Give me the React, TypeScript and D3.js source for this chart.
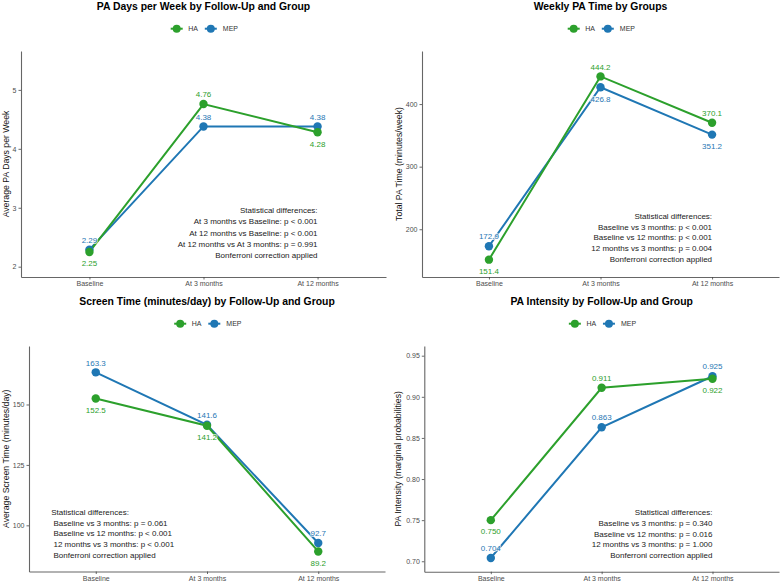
import React, { useEffect, useRef } from 'react';
import * as d3 from 'd3';

const FONT = '"Liberation Sans", Arial, Helvetica, sans-serif';

const followUps = ['Baseline', 'At 3 months', 'At 12 months'];
const groups = ['HA', 'MEP'];
const groupColors = ['#2ca02c', '#1f77b4'];

// PA days per week
const daysHA = [2.25, 4.76, 4.28];
const daysMEP = [2.29, 4.38, 4.38];
const daysHABelow = [true, false, true];
const daysMEPBelow = [false, false, false];
const daysDomain = [1.825, 5.66];
const daysTicks = [2, 3, 4, 5];
const daysStats = [
  'Statistical differences:',
  'At 3 months vs Baseline: p < 0.001',
  'At 12 months vs Baseline: p < 0.001',
  'At 12 months vs At 3 months: p = 0.991',
  'Bonferroni correction applied',
];

// weekly PA time
const timeHA = [151.4, 444.2, 370.1];
const timeMEP = [172.9, 426.8, 351.2];
const timeHABelow = [true, false, false];
const timeMEPBelow = [false, true, true];
const timeDomain = [123.7, 484.8];
const timeTicks = [200, 300, 400];
const timeStats = [
  'Statistical differences:',
  'Baseline vs 3 months: p < 0.001',
  'Baseline vs 12 months: p < 0.001',
  '12 months vs 3 months: p = 0.004',
  'Bonferroni correction applied',
];

// screen time
const screenHA = [152.5, 141.2, 89.2];
const screenMEP = [163.3, 141.6, 92.7];
const screenHABelow = [true, true, true];
const screenMEPBelow = [false, false, false];
const screenDomain = [80.9, 174.2];
const screenTicks = [100, 125, 150];
const screenStats = [
  'Statistical differences:',
  ' Baseline vs 3 months: p = 0.061',
  ' Baseline vs 12 months: p < 0.001',
  ' 12 months vs 3 months: p < 0.001',
  ' Bonferroni correction applied',
];

// PA intensity
const intensityHA = [0.75, 0.911, 0.922];
const intensityMEP = [0.704, 0.863, 0.925];
const intensityHABelow = [true, false, true];
const intensityMEPBelow = [false, false, false];
const intensityDomain = [0.6873, 0.9618];
const intensityTicks = [0.7, 0.75, 0.8, 0.85, 0.9, 0.95];
const intensityStats = [
  'Statistical differences:',
  'Baseline vs 3 months: p = 0.340',
  'Baseline vs 12 months: p = 0.016',
  '12 months vs 3 months: p = 1.000',
  'Bonferroni correction applied',
];

const panels = [
  {
    title: 'PA Days per Week by Follow-Up and Group',
    yTitle: 'Average PA Days per Week',
    ha: daysHA, mep: daysMEP, haBelow: daysHABelow, mepBelow: daysMEPBelow,
    yDomain: daysDomain, yTicks: daysTicks, tickFmt: 'd', labelFmt: '.2f',
    stats: daysStats, statsAnchor: 'end', statsAt: 2, statsY: 2.96, statsStep: 11.25,
    box: { left: 21, right: 386, top: 51, bottom: 277 }, yTitleX: 9,
  },
  {
    title: 'Weekly PA Time by Groups',
    yTitle: 'Total PA Time (minutes/week)',
    ha: timeHA, mep: timeMEP, haBelow: timeHABelow, mepBelow: timeMEPBelow,
    yDomain: timeDomain, yTicks: timeTicks, tickFmt: 'd', labelFmt: '.1f',
    stats: timeStats, statsAnchor: 'end', statsAt: 2, statsY: 220.8, statsStep: 10.65,
    box: { left: 422, right: 779, top: 51, bottom: 277 }, yTitleX: 402,
  },
  {
    title: 'Screen Time (minutes/day) by Follow-Up and Group',
    yTitle: 'Average Screen Time (minutes/day)',
    ha: screenHA, mep: screenMEP, haBelow: screenHABelow, mepBelow: screenMEPBelow,
    yDomain: screenDomain, yTicks: screenTicks, tickFmt: 'd', labelFmt: '.1f',
    stats: screenStats, statsAnchor: 'start', statsAt: -0.4, statsY: 105.4, statsStep: 10.6,
    box: { left: 29, right: 385, top: 346, bottom: 571.5 }, yTitleX: 9,
  },
  {
    title: 'PA Intensity by Follow-Up and Group',
    yTitle: 'PA Intensity (marginal probabilities)',
    ha: intensityHA, mep: intensityMEP, haBelow: intensityHABelow, mepBelow: intensityMEPBelow,
    yDomain: intensityDomain, yTicks: intensityTicks, tickFmt: '.2f', labelFmt: '.3f',
    stats: intensityStats, statsAnchor: 'end', statsAt: 2, statsY: 0.7592, statsStep: 10.65,
    box: { left: 424.3, right: 779, top: 346, bottom: 571.7 }, yTitleX: 401,
  },
];

function drawPanel(svg: any, p: any) {
  const { left, right, top, bottom } = p.box;
  const g = svg.append('g').attr('font-family', FONT);
  const cx = (left + right) / 2;

  const x = d3.scalePoint().domain(followUps).range([left, right]).padding(0.6);
  const y = d3.scaleLinear().domain(p.yDomain).range([bottom, top]);

  // title
  g.append('text')
    .attr('x', cx)
    .attr('y', top - 40.6)
    .attr('text-anchor', 'middle')
    .attr('font-size', 10.4)
    .attr('font-weight', 'bold')
    .attr('fill', '#000')
    .text(p.title);

  // legend
  const legend = g.append('g').attr('transform', `translate(${cx},${top - 22.3})`);
  const keyX = [-26.8, 7.3];
  const textX = [-15.2, 19.3];
  groups.forEach((name, i) => {
    legend.append('line')
      .attr('x1', keyX[i] - 6).attr('x2', keyX[i] + 6)
      .attr('y1', 0).attr('y2', 0)
      .attr('stroke', groupColors[i])
      .attr('stroke-width', 2);
    legend.append('circle')
      .attr('cx', keyX[i]).attr('cy', 0).attr('r', 4)
      .attr('fill', groupColors[i]);
    legend.append('text')
      .attr('x', textX[i]).attr('y', 2.5)
      .attr('font-size', 7)
      .attr('fill', '#333')
      .text(name);
  });

  // axes
  const xAxis = g.append('g')
    .attr('transform', `translate(0,${bottom})`)
    .call(d3.axisBottom(x).tickSize(2.5).tickSizeOuter(0).tickPadding(2));
  const yAxis = g.append('g')
    .attr('transform', `translate(${left},0)`)
    .call(
      d3.axisLeft(y)
        .tickValues(p.yTicks)
        .tickFormat(d3.format(p.tickFmt))
        .tickSize(2.5)
        .tickSizeOuter(0)
        .tickPadding(2)
    );
  [xAxis, yAxis].forEach((ax) => {
    ax.attr('font-family', FONT).attr('font-size', 7);
    ax.select('.domain').attr('stroke', '#666').attr('stroke-width', 1.1);
    ax.selectAll('.tick line').attr('stroke', '#444').attr('stroke-width', 0.8);
    ax.selectAll('.tick text').attr('fill', '#4d4d4d');
  });

  // y axis title
  g.append('text')
    .attr('transform', `translate(${p.yTitleX},${(top + bottom) / 2}) rotate(-90)`)
    .attr('text-anchor', 'middle')
    .attr('font-size', 8.7)
    .attr('fill', '#111')
    .text(p.yTitle);

  // statistics note
  const sx = (x(followUps[0]) as number) + p.statsAt * x.step();
  const sy = y(p.statsY) + 2.9;
  g.append('g')
    .selectAll('text')
    .data(p.stats)
    .enter()
    .append('text')
    .attr('x', sx)
    .attr('y', (d: string, i: number) => sy + i * p.statsStep)
    .attr('text-anchor', p.statsAnchor)
    .attr('font-size', 8)
    .attr('fill', '#1a1a1a')
    .style('white-space', 'pre')
    .text((d: string) => d);

  // MEP first so HA sits on top
  const series = [
    { values: p.mep, below: p.mepBelow, color: groupColors[1] },
    { values: p.ha, below: p.haBelow, color: groupColors[0] },
  ];
  const line = d3.line<number>()
    .x((d, i) => x(followUps[i]) as number)
    .y((d) => y(d));

  series.forEach((s) => {
    g.append('path')
      .attr('d', line(s.values))
      .attr('fill', 'none')
      .attr('stroke', s.color)
      .attr('stroke-width', 2);
  });

  series.forEach((s) => {
    g.append('g')
      .selectAll('circle')
      .data(s.values)
      .enter()
      .append('circle')
      .attr('cx', (d: number, i: number) => x(followUps[i]))
      .attr('cy', (d: number) => y(d))
      .attr('r', 4.2)
      .attr('fill', s.color);
  });

  const fmt = d3.format(p.labelFmt);
  series.forEach((s) => {
    g.append('g')
      .selectAll('text')
      .data(s.values)
      .enter()
      .append('text')
      .attr('x', (d: number, i: number) => x(followUps[i]))
      .attr('y', (d: number, i: number) => y(d) + (s.below[i] ? 14.2 : -6.8))
      .attr('text-anchor', 'middle')
      .attr('font-size', 8)
      .attr('fill', s.color)
      .attr('stroke', '#fff')
      .attr('stroke-width', 2)
      .attr('stroke-opacity', 0.7)
      .attr('paint-order', 'stroke')
      .text((d: number) => fmt(d));
  });
}

export default function App() {
  const svgRef = useRef<SVGSVGElement>(null);
  const width = 782;
  const height = 585;

  useEffect(() => {
    const svg = d3.select(svgRef.current);
    svg.selectAll('*').remove();
    svg.append('rect').attr('width', width).attr('height', height).attr('fill', '#fff');
    panels.forEach((p) => drawPanel(svg, p));
  }, []);

  return (
    <svg
      ref={svgRef}
      width={width}
      height={height}
      style={{ position: 'absolute', left: 0, top: 0 }}
    ></svg>
  );
}
